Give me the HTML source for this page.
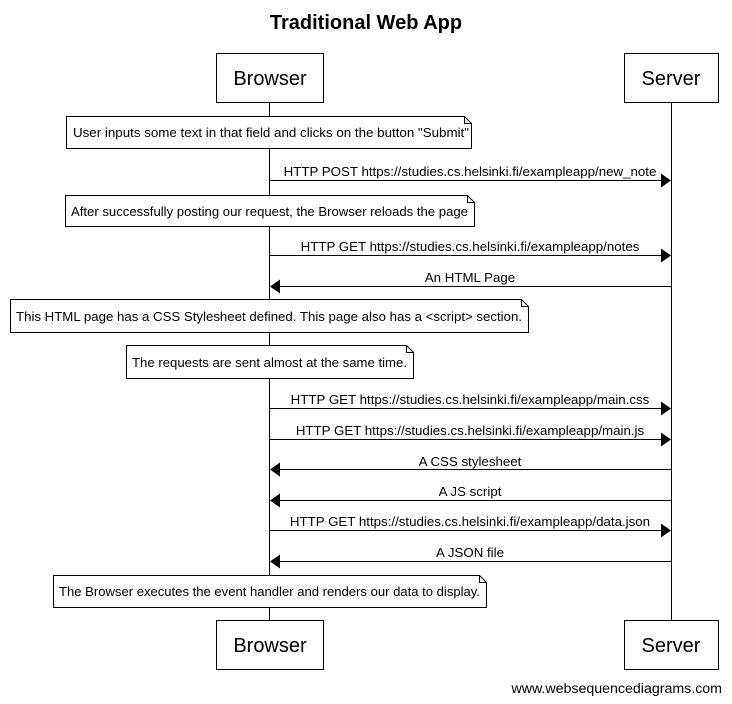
<!DOCTYPE html>
<html><head><style>body{margin:0;background:#fff}svg{display:block}</style></head><body>
<svg width="732" height="704" xmlns="http://www.w3.org/2000/svg" font-family="Liberation Sans, sans-serif">
<rect width="732" height="704" fill="#fff"/>
<text x="366" y="29" font-size="20" font-weight="bold" text-anchor="middle">Traditional Web App</text>
<g stroke="#000" stroke-width="1" fill="none">
<line x1="269.5" y1="102" x2="269.5" y2="620"/>
<line x1="671.5" y1="102" x2="671.5" y2="620"/>
</g>
<g stroke="#000" fill="#fff">
<rect x="216.5" y="53.5" width="107" height="49"/>
<rect x="624.5" y="53.5" width="94" height="49"/>
<rect x="216.5" y="620.5" width="107" height="49"/>
<rect x="624.5" y="620.5" width="94" height="49"/>
</g>
<g font-size="20" text-anchor="middle">
<text x="270" y="85">Browser</text><text x="671" y="85">Server</text>
<text x="270" y="652">Browser</text><text x="671" y="652">Server</text>
</g>
<g stroke="#000" fill="#fff">
<path d="M66.5 116.5H464.5L471.5 123.5V148.5H66.5Z"/><path d="M464.5 116.5V123.5H471.5" fill="none"/>
<path d="M65.5 195.5H467.5L474.5 202.5V226.5H65.5Z"/><path d="M467.5 195.5V202.5H474.5" fill="none"/>
<path d="M10.5 299.5H521.5L528.5 306.5V332.5H10.5Z"/><path d="M521.5 299.5V306.5H528.5" fill="none"/>
<path d="M126.5 345.5H406.5L413.5 352.5V378.5H126.5Z"/><path d="M406.5 345.5V352.5H413.5" fill="none"/>
<path d="M53.5 575.5H479.5L486.5 582.5V607.5H53.5Z"/><path d="M479.5 575.5V582.5H486.5" fill="none"/>
</g>
<g font-size="13">
<text x="73" y="137" textLength="396" lengthAdjust="spacingAndGlyphs">User inputs some text in that field and clicks on the button "Submit"</text>
<text x="71" y="216" textLength="397" lengthAdjust="spacingAndGlyphs">After successfully posting our request, the Browser reloads the page</text>
<text x="16" y="321" textLength="506" lengthAdjust="spacingAndGlyphs">This HTML page has a CSS Stylesheet defined. This page also has a &lt;script&gt; section.</text>
<text x="132" y="367" textLength="275" lengthAdjust="spacingAndGlyphs">The requests are sent almost at the same time.</text>
<text x="59" y="596" textLength="421" lengthAdjust="spacingAndGlyphs">The Browser executes the event handler and renders our data to display.</text>
</g>
<g stroke="#000">
<line x1="270" y1="180.5" x2="662" y2="180.5"/>
<line x1="270" y1="255.5" x2="662" y2="255.5"/>
<line x1="279" y1="286.5" x2="671" y2="286.5"/>
<line x1="270" y1="408.5" x2="662" y2="408.5"/>
<line x1="270" y1="439.5" x2="662" y2="439.5"/>
<line x1="279" y1="469.5" x2="671" y2="469.5"/>
<line x1="279" y1="500.5" x2="671" y2="500.5"/>
<line x1="270" y1="530.5" x2="662" y2="530.5"/>
<line x1="279" y1="561.5" x2="671" y2="561.5"/>
</g>
<g fill="#000">
<path d="M661 173.5L671 180.5L661 187.5Z"/>
<path d="M661 248.5L671 255.5L661 262.5Z"/>
<path d="M280 279.5L270 286.5L280 293.5Z"/>
<path d="M661 401.5L671 408.5L661 415.5Z"/>
<path d="M661 432.5L671 439.5L661 446.5Z"/>
<path d="M280 462.5L270 469.5L280 476.5Z"/>
<path d="M280 493.5L270 500.5L280 507.5Z"/>
<path d="M661 523.5L671 530.5L661 537.5Z"/>
<path d="M280 554.5L270 561.5L280 568.5Z"/>
</g>
<g font-size="13.3" text-anchor="middle">
<text x="470" y="176">HTTP POST https://studies.cs.helsinki.fi/exampleapp/new_note</text>
<text x="470" y="251">HTTP GET https://studies.cs.helsinki.fi/exampleapp/notes</text>
<text x="470" y="282">An HTML Page</text>
<text x="470" y="404">HTTP GET https://studies.cs.helsinki.fi/exampleapp/main.css</text>
<text x="470" y="435">HTTP GET https://studies.cs.helsinki.fi/exampleapp/main.js</text>
<text x="470" y="466">A CSS stylesheet</text>
<text x="470" y="496">A JS script</text>
<text x="470" y="526">HTTP GET https://studies.cs.helsinki.fi/exampleapp/data.json</text>
<text x="470" y="557">A JSON file</text>
</g>
<text x="722" y="693" font-size="14.2" text-anchor="end">www.websequencediagrams.com</text>
</svg>
</body></html>
